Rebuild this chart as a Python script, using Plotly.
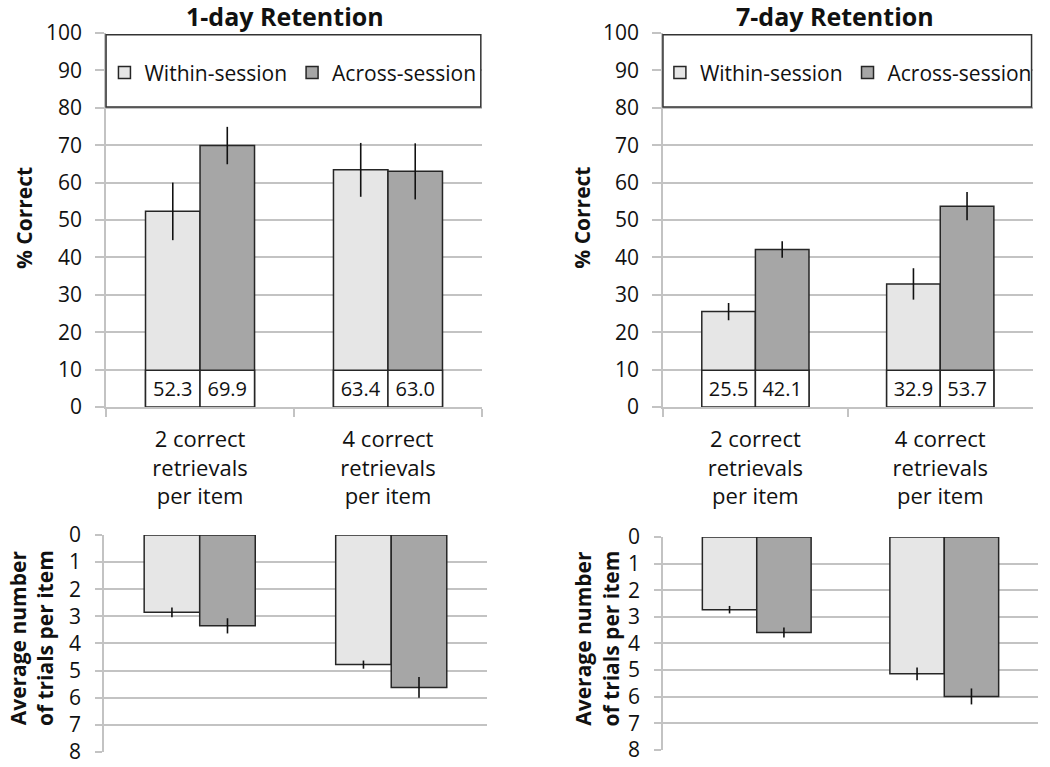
import plotly.graph_objects as go
from plotly.subplots import make_subplots

# ---------------- data ----------------
categories = ["2 correct<br>retrievals<br>per item", "4 correct<br>retrievals<br>per item"]
series_names = ["Within-session", "Across-session"]

pct_1day_within = [52.3, 63.4]
pct_1day_within_err = [7.7, 7.2]
pct_1day_across = [69.9, 63.0]
pct_1day_across_err = [5.0, 7.5]

pct_7day_within = [25.5, 32.9]
pct_7day_within_err = [2.3, 4.2]
pct_7day_across = [42.1, 53.7]
pct_7day_across_err = [2.2, 3.8]

trials_1day_within = [2.85, 4.78]
trials_1day_within_err = [0.18, 0.15]
trials_1day_across = [3.35, 5.62]
trials_1day_across_err = [0.28, 0.38]

trials_7day_within = [2.73, 5.14]
trials_7day_within_err = [0.14, 0.24]
trials_7day_across = [3.59, 5.99]
trials_7day_across_err = [0.19, 0.30]

titles = ["1-day Retention", "7-day Retention"]

# ---------------- style ----------------
FONT = "Open Sans"
WITHIN_COLOR = "#e6e6e6"
ACROSS_COLOR = "#a6a6a6"
OUTLINE = "#262626"
GRID = "#c3c3c3"
BAR_W = 0.29
LABEL_BOX_H = 9.8

fig = make_subplots(rows=2, cols=2)


def add_pair(row, col, within, within_err, across, across_err, legend_name, labels):
    for vals, errs, color, off, name in [
        (within, within_err, WITHIN_COLOR, -BAR_W, series_names[0]),
        (across, across_err, ACROSS_COLOR, 0.0, series_names[1]),
    ]:
        fig.add_trace(
            go.Bar(
                x=categories, y=vals, name=name,
                width=BAR_W, offset=off,
                marker=dict(color=color, line=dict(color=OUTLINE, width=1.5)),
                error_y=dict(type="data", array=errs, symmetric=True,
                             width=0, thickness=1.6, color="#111111"),
                showlegend=legend_name is not None,
                legend=legend_name if legend_name else "legend",
                hoverinfo="skip",
            ),
            row=row, col=col,
        )
    if labels:
        for vals, off in [(within, -BAR_W), (across, 0.0)]:
            fig.add_trace(
                go.Bar(
                    x=categories, y=[LABEL_BOX_H] * len(vals),
                    width=BAR_W, offset=off,
                    marker=dict(color="white", line=dict(color=OUTLINE, width=1.5)),
                    text=[f"{v:.1f}" for v in vals],
                    textposition="inside", insidetextanchor="middle",
                    textfont=dict(family=FONT, size=20, color="#111111"),
                    textangle=0,
                    showlegend=False, hoverinfo="skip",
                ),
                row=row, col=col,
            )


add_pair(1, 1, pct_1day_within, pct_1day_within_err, pct_1day_across, pct_1day_across_err, "legend", True)
add_pair(1, 2, pct_7day_within, pct_7day_within_err, pct_7day_across, pct_7day_across_err, "legend2", True)
add_pair(2, 1, trials_1day_within, trials_1day_within_err, trials_1day_across, trials_1day_across_err, None, False)
add_pair(2, 2, trials_7day_within, trials_7day_within_err, trials_7day_across, trials_7day_across_err, None, False)

tickfont = dict(family=FONT, size=21, color="#111111")

top_y = dict(range=[0, 100], dtick=10, showline=True, linecolor=GRID, linewidth=1.5,
             showgrid=True, gridcolor=GRID, gridwidth=1.5, zeroline=False,
             ticks="outside", ticklen=9, tickcolor=GRID, tickwidth=1.5, automargin=False,
             tickfont=tickfont, ticklabelstandoff=9, domain=[0.4694, 0.957])
bot_y = dict(range=[8.001, -0.001], dtick=1, showline=True, linecolor=GRID, linewidth=1.5,
             showgrid=True, gridcolor=GRID, gridwidth=1.5, zeroline=False,
             ticks="outside", ticklen=7, tickcolor=GRID, tickwidth=1.5, automargin=False,
             tickfont=tickfont, ticklabelstandoff=10)
top_x = dict(showgrid=False, showline=True, linecolor=GRID, linewidth=1.5,
             ticks="outside", tickson="boundaries", ticklen=8, tickcolor=GRID, tickwidth=1.5,
             automargin=False, tickfont=dict(family=FONT, size=22, color="#111111"),
             ticklabelstandoff=12)
bot_x = dict(showgrid=False, showline=False, ticks="", showticklabels=False, automargin=False)

legend_common = dict(orientation="h", y=0.905, xanchor="center", yanchor="middle",
                     bgcolor="rgba(0,0,0,0)", borderwidth=0, itemwidth=30,
                     font=dict(family=FONT, size=21, color="#111111"))

fig.update_layout(
    xaxis=dict(top_x, domain=[0.101, 0.459]),
    yaxis=top_y,
    xaxis2=dict(top_x, domain=[0.6314, 0.9835]),
    yaxis2=top_y,
    xaxis3=dict(bot_x, domain=[0.099, 0.4638]),
    yaxis3=dict(bot_y, domain=[0.0196, 0.3025]),
    xaxis4=dict(bot_x, domain=[0.6314, 0.9886]),
    yaxis4=dict(bot_y, domain=[0.0222, 0.2999]),
    barmode="overlay",
    width=1050, height=767, autosize=False,
    margin=dict(l=0, r=0, t=0, b=0, pad=0),
    paper_bgcolor="white", plot_bgcolor="white",
    font=dict(family=FONT, color="#111111"),
    legend=dict(legend_common, x=0.279),
    legend2=dict(legend_common, x=0.808),
)

# legend boxes spanning plot width
for xr, yr in [("x domain", "y"), ("x2 domain", "y2")]:
    fig.add_shape(type="rect", xref=xr, yref=yr, x0=0, x1=0.997, y0=80.2, y1=99.5,
                  fillcolor="white", line=dict(color="#333333", width=1.5), layer="above")

# titles and axis titles
for x, t in [(0.2714, titles[0]), (0.795, titles[1])]:
    fig.add_annotation(text=f"<b>{t}</b>", x=x, y=0.979, xref="paper", yref="paper",
                       xanchor="center", yanchor="middle",
                       showarrow=False, font=dict(family=FONT, size=25, color="#111111"))
for x in [0.0229, 0.554]:
    fig.add_annotation(text="<b>% Correct</b>", x=x, y=0.7158, xref="paper", yref="paper",
                       xanchor="center", yanchor="middle",
                       showarrow=False, textangle=-90, font=dict(family=FONT, size=21, color="#111111"))
for x in [0.0295, 0.568]:
    fig.add_annotation(text="<b>Average number<br>of trials per item</b>", x=x, y=0.168,
                       xref="paper", yref="paper", showarrow=False, textangle=-90,
                       xanchor="center", yanchor="middle",
                       font=dict(family=FONT, size=21, color="#111111"))

fig.write_html("out.html", config={"displayModeBar": False},
               post_script="document.body.style.margin='0';")
